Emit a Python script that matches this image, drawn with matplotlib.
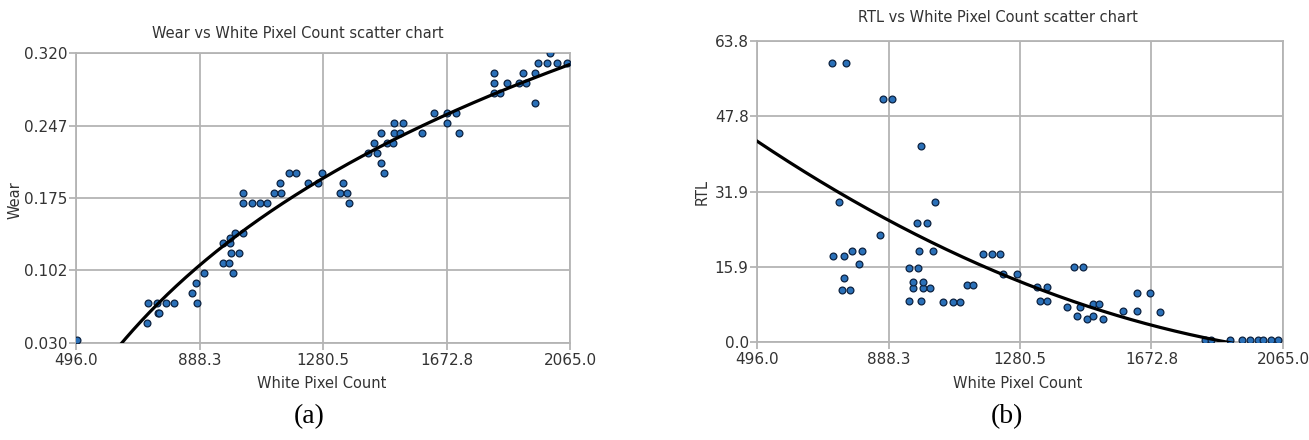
import numpy as np
import matplotlib
matplotlib.use("Agg")
import matplotlib.pyplot as plt

# White pixel count vs wear
wear_px = [500, 721, 725, 753, 756, 760, 782, 807, 864, 877, 880, 902,
           963, 982, 995, 988, 1014, 963, 985, 985, 1001, 1026, 1026, 1026,
           1055, 1080, 1102, 1125, 1147, 1144, 1172, 1195, 1233, 1265, 1277,
           1344, 1334, 1357, 1363, 1423, 1452, 1465, 1474, 1442, 1465, 1484,
           1503, 1506, 1525, 1506, 1535, 1595, 1633, 1674, 1674, 1703, 1712,
           1824, 1824, 1824, 1865, 1843, 1903, 1916, 1925, 1954, 1954, 1963,
           1992, 2024, 2055, 2001]
wear = [0.033, 0.05, 0.07, 0.07, 0.06, 0.06, 0.07, 0.07, 0.08, 0.09, 0.07, 0.10,
        0.11, 0.11, 0.10, 0.12, 0.12, 0.13, 0.13, 0.135, 0.14, 0.14, 0.18, 0.17,
        0.17, 0.17, 0.17, 0.18, 0.18, 0.19, 0.20, 0.20, 0.19, 0.19, 0.20,
        0.19, 0.18, 0.18, 0.17, 0.22, 0.22, 0.21, 0.20, 0.23, 0.24, 0.23,
        0.23, 0.24, 0.24, 0.25, 0.25, 0.24, 0.26, 0.26, 0.25, 0.26, 0.24,
        0.30, 0.29, 0.28, 0.29, 0.28, 0.29, 0.30, 0.29, 0.30, 0.27, 0.31,
        0.31, 0.31, 0.31, 0.32]

# White pixel count vs RTL
rtl_px = [720, 761, 872, 899, 985, 1027, 741, 973, 1003, 863, 723, 756,
          779, 809, 800, 756, 750, 773, 979, 1021, 950, 976, 961, 991, 1012,
          961, 991, 950, 985, 1051, 1081, 1102, 1122, 1140, 1170, 1197, 1221,
          1230, 1272, 1331, 1361, 1340, 1361, 1442, 1469, 1421, 1459, 1451,
          1480, 1498, 1528, 1498, 1516, 1588, 1630, 1630, 1668, 1698,
          1833, 1850, 1907, 1943, 1968, 1990, 2005, 2030, 2050]
rtl = [59.1, 59.1, 51.5, 51.5, 41.6, 29.7, 29.7, 25.2, 25.2, 22.7, 18.2, 18.2,
       19.3, 19.3, 16.5, 13.6, 11.0, 11.0, 19.3, 19.3, 15.7, 15.7, 11.4, 11.4, 11.4,
       12.7, 12.7, 8.7, 8.7, 8.5, 8.5, 8.5, 12.1, 12.1, 18.7, 18.7, 18.7,
       14.4, 14.4, 11.7, 11.7, 8.7, 8.7, 15.9, 15.9, 7.4, 7.4, 5.5,
       4.9, 5.5, 4.9, 8.0, 8.0, 6.6, 6.6, 10.4, 10.4, 6.4,
       0.4, 0.4, 0.4, 0.4, 0.4, 0.4, 0.4, 0.4, 0.4]

# RTL polynomial trend: a + b*d + c*d^2, d = (pixels - 1280.5) / 1000
rtl_trend = [12.81, -28.35, 12.25]

x_ticks = [496.0, 888.3, 1280.5, 1672.8, 2065.0]
wear_ticks = ["0.030", "0.102", "0.175", "0.247", "0.320"]
rtl_ticks = ["0.0", "15.9", "31.9", "47.8", "63.8"]

GRID = "#b4b4b4"
TEXT = "#333333"
FILL = "#2a70b8"
EDGE = "#0d2240"

plt.rcParams["font.family"] = "DejaVu Sans"

fig = plt.figure(figsize=(13.09, 4.40), dpi=100)
ax1 = fig.add_axes([0.0581, 0.2205, 0.3774, 0.659])
ax2 = fig.add_axes([0.5783, 0.2227, 0.4018, 0.684])


def style(ax, lo, hi, labels):
    ax.set_xlim(x_ticks[0], x_ticks[-1])
    ax.set_ylim(lo, hi)
    ax.set_xticks(x_ticks)
    ax.set_xticklabels(["%.1f" % t for t in x_ticks])
    ax.set_yticks(np.linspace(lo, hi, len(labels)))
    ax.set_yticklabels(labels)
    ax.grid(True, color=GRID, linewidth=1.3)
    ax.set_axisbelow(True)
    for s in ax.spines.values():
        s.set_color(GRID)
        s.set_linewidth(1.3)
    ax.tick_params(axis="both", direction="out", length=5, width=1.3,
                   color=GRID, labelcolor=TEXT, labelsize=11)
    ax.tick_params(axis="x", pad=2)
    ax.tick_params(axis="y", pad=1)


style(ax1, 0.030, 0.320, wear_ticks)
style(ax2, 0.0, 63.8, rtl_ticks)

xs = np.linspace(x_ticks[0], x_ticks[-1], 400)

# (a) logarithmic trend fitted to the wear points
ax1.scatter(wear_px, wear, s=24, c=FILL, edgecolors=EDGE, linewidths=0.9, zorder=3)
ca = np.polyfit(np.log(wear_px), wear, 1)
ax1.plot(xs, ca[0] * np.log(xs) + ca[1], color="black", linewidth=2.3, zorder=4)

# (b) quadratic trend
ax2.scatter(rtl_px, rtl, s=24, c=FILL, edgecolors=EDGE, linewidths=0.9, zorder=3)
d = (xs - 1280.5) / 1000.0
ax2.plot(xs, rtl_trend[0] + rtl_trend[1] * d + rtl_trend[2] * d ** 2,
         color="black", linewidth=2.3, zorder=4)

fig.text(298 / 1309, 1 - 33 / 440, "Wear vs White Pixel Count scatter chart",
         ha="center", va="center", fontsize=10.5, color=TEXT)
fig.text(998 / 1309, 1 - 18 / 440, "RTL vs White Pixel Count scatter chart",
         ha="center", va="center", fontsize=10.5, color=TEXT)
fig.text(322 / 1309, 1 - 383 / 440, "White Pixel Count",
         ha="center", va="center", fontsize=10.5, color=TEXT)
fig.text(1018 / 1309, 1 - 383 / 440, "White Pixel Count",
         ha="center", va="center", fontsize=10.5, color=TEXT)
fig.text(15 / 1309, 1 - 200 / 440, "Wear", rotation=90,
         ha="center", va="center", fontsize=10.5, color=TEXT)
fig.text(702 / 1309, 1 - 192 / 440, "RTL", rotation=90,
         ha="center", va="center", fontsize=10.5, color=TEXT)

fig.text(309 / 1309, 1 - 417 / 440, "(a)", ha="center", va="center",
         fontsize=20, family="Liberation Serif", color="black")
fig.text(1007 / 1309, 1 - 417 / 440, "(b)", ha="center", va="center",
         fontsize=20, family="Liberation Serif", color="black")

fig.savefig("out.png", dpi=100)
